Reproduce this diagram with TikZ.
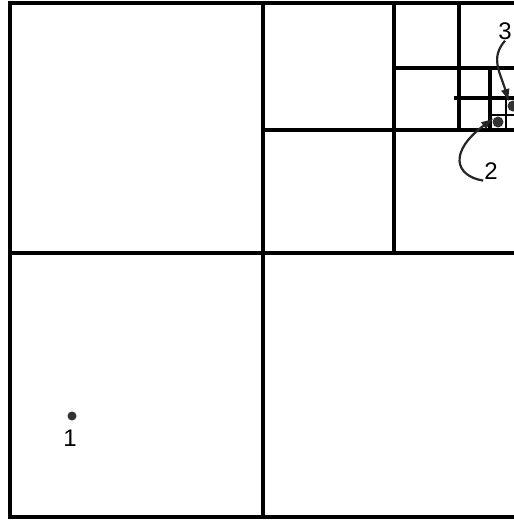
\documentclass[tikz,border=0pt]{standalone}
\usepackage{fontspec}
\setmainfont{Liberation Sans}
\usetikzlibrary{arrows.meta}
\begin{document}
\begin{tikzpicture}[x=1pt,y=-1pt,
  grid/.style={line width=3.2pt,line cap=rect},
  dot/.style={circle,fill=black!80,inner sep=0pt,minimum size=#1},
  lbl/.style={inner sep=1pt,font=\fontsize{24}{24}\selectfont},
  curly/.style={line width=2.2pt,black!85,-{Latex[length=13pt,width=9pt]}}]
\useasboundingbox (0,0) rectangle (514,520);
\begin{scope}
\clip (0,0) rectangle (514,520);
% outer box and main grid
\draw[grid] (10,3) rectangle (524,517);
\draw[grid] (263,3) -- (263,513);
\draw[grid] (10,253) -- (524,253);
% level 2
\draw[grid] (394,3) -- (394,253);
\draw[grid] (263,130) -- (524,130);
% level 3
\draw[grid] (459,3) -- (459,130);
\draw[grid] (394,68) -- (524,68);
% level 4
\draw[grid] (490,68) -- (490,130);
\draw[grid] (456,98) -- (524,98);
% level 5
\draw[line width=2.4pt] (506,98) -- (506,130);
\draw[line width=2.4pt] (490,115) -- (524,115);
% points
\node[dot=11pt] (p2) at (498,122) {};
\node[dot=11pt] (p3) at (513,106) {};
\node[dot=9pt] (p1) at (72,416) {};
\node[lbl] (l1) at (70,438) {1};
\node[lbl] (l2) at (491,171) {2};
\node[lbl] (l3) at (505,31) {3};
\draw[curly] (l2.south west) .. controls (455,176) and (448,152) .. (p2.north west);
\draw[curly] (l3.south) .. controls (490,58) and (500,72) .. (p3.north west);
\end{scope}
\end{tikzpicture}
\end{document}
